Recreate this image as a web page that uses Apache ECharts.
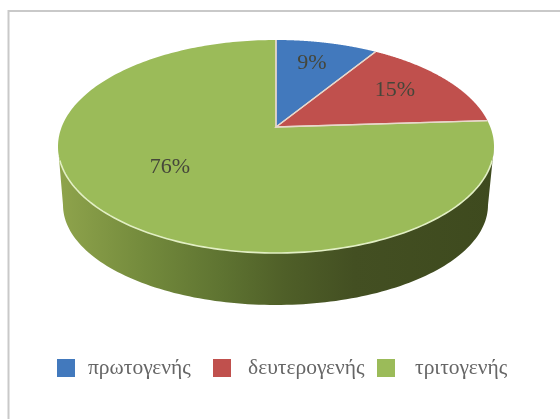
<!DOCTYPE html>
<html><head><meta charset="utf-8">
<style>html,body{margin:0;padding:0;background:#fff;overflow:hidden}#c{width:560px;height:419px;filter:blur(0.7px)}</style>
<script src="https://cdn.jsdelivr.net/npm/echarts@6/dist/echarts.min.js"></script>
</head><body><div id="c"></div>
<script>
const categories = ['πρωτογενής', 'δευτερογενής', 'τριτογενής'];
const shares = [9, 15, 76];
const colours = ['#4279bd', '#c0504d', '#9bbb59'];

// Layout of the tilted disc
const TOP = {cx: 276, cy: 146.5, rx: 218, ry: 106.5, apex: 0.183};
const BASE = {cx: 275.5, cy: 205, rx: 212.5, ry: 100};
const LABEL_AT = [[312, 63], [395, 90], [170, 167]];
const LEGEND_AT = [57, 213, 377];
const LEGEND_PAD = [8, 12, 15];

const total = shares.reduce((a, b) => a + b, 0);
const starts = shares.map((_, i) => shares.slice(0, i).reduce((a, b) => a + b, 0));

function rim(e, th) { return [e.cx + e.rx * Math.sin(th), e.cy - e.ry * Math.cos(th)]; }
// perspective: a share's angle on the flat disc -> point on the drawn ellipse rim
function projected(frac) {
  const t = frac * 2 * Math.PI, a = TOP.apex, x = Math.sin(t), y = Math.cos(t), d = 1 + a * y;
  return [TOP.cx + TOP.rx * x * Math.sqrt(1 - a * a) / d, TOP.cy - TOP.ry * (y + a) / d];
}
const apexPt = [TOP.cx, TOP.cy - TOP.ry * TOP.apex];
const wallFill = {type: 'linear', global: true, x: 58, y: 0, x2: 494, y2: 0, colorStops: [
  {offset: 0, color: '#8fa44c'}, {offset: 0.2, color: '#738a3c'}, {offset: 0.38, color: '#5e7331'},
  {offset: 0.52, color: '#4f5f28'}, {offset: 0.68, color: '#434f22'}, {offset: 1, color: '#3e4a1e'}]};

function renderSlice(params, api) {
  const i = params.seriesIndex, v = api.value(0);
  const f0 = starts[i] / total, f1 = f0 + v / total;
  const arc = [];
  for (let k = 0; k <= 240; k++) arc.push(projected(f0 + (f1 - f0) * k / 240));
  const kids = [];
  // Side wall: only the part of the slice rim facing the viewer
  if (f1 > 0.25) {
    const a0 = 90 * Math.PI / 180, a1 = 270 * Math.PI / 180, up = [], dn = [], hi = [];
    for (let k = 0; k <= 120; k++) {
      const th = a0 + (a1 - a0) * k / 120;
      up.push(rim(TOP, th)); dn.push(rim(BASE, th));
      const deg = th * 180 / Math.PI;
      if (deg > 97 && deg < 263) hi.push(rim(TOP, th));
    }
    kids.push({type: 'polygon', z2: 1, shape: {points: up.concat(dn.reverse())}, style: {fill: wallFill}});
    kids.push({type: 'polyline', z2: 4, shape: {points: hi}, style: {fill: null, stroke: '#e2efc4', lineWidth: 1.6}});
  }
  kids.push({type: 'polygon', z2: 2, shape: {points: [apexPt].concat(arc)}, style: {fill: colours[i]}});
  kids.push({type: 'polyline', z2: 3, shape: {points: [arc[0], apexPt, arc[arc.length - 1]]},
    style: {fill: null, stroke: '#e8d8cc', lineWidth: 1.3}});
  kids.push({type: 'text', z2: 5, style: {x: LABEL_AT[i][0], y: LABEL_AT[i][1], text: v + '%',
    fill: '#45463a', font: '22px "Liberation Serif"', align: 'center', verticalAlign: 'middle'}});
  return {type: 'group', children: kids};
}

const chart = echarts.init(document.getElementById('c'), null, {renderer: 'canvas'});
chart.setOption({
  animation: false,
  backgroundColor: '#fff',
  graphic: [{type: 'rect', z: -1, shape: {x: 8.5, y: 11, width: 640, height: 520},
    style: {fill: '#fff', stroke: '#c9c9c9', lineWidth: 2}}],
  legend: categories.map((c, i) => ({
    data: [c], left: LEGEND_AT[i], top: 357, padding: 0, itemWidth: 18, itemHeight: 18, icon: 'rect',
    selectedMode: false,
    textStyle: {fontFamily: 'Liberation Serif', fontSize: 21.5, color: '#666666', padding: [0, 0, 0, LEGEND_PAD[i]]}
  })),
  series: categories.map((c, i) => ({
    type: 'custom', name: c, coordinateSystem: 'none', silent: true,
    itemStyle: {color: colours[i]}, renderItem: renderSlice, data: [[shares[i]]]
  }))
});
</script></body></html>
